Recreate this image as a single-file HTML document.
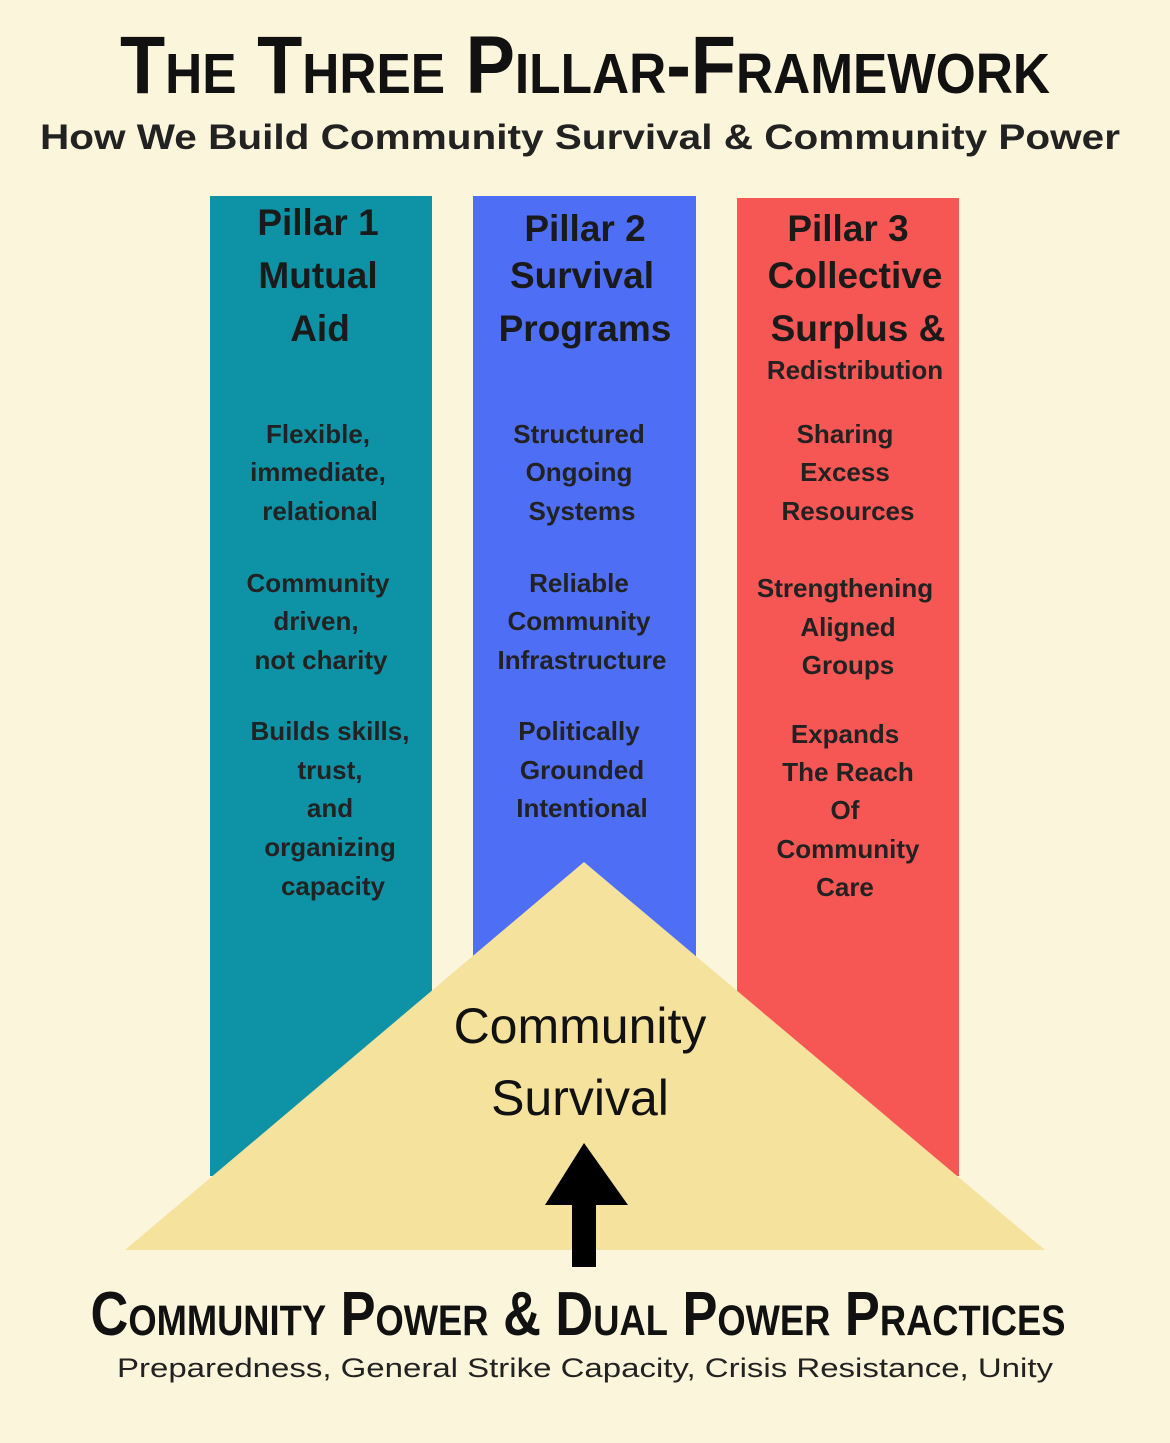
<!DOCTYPE html>
<html><head><meta charset="utf-8"><style>
html,body{margin:0;padding:0;background:#fbf5dc;}
svg{display:block}
text{font-family:"Liberation Sans",sans-serif;fill:#151515;}
.h{font-size:37px;font-weight:bold;fill:#1a1a1a}
.b{font-size:26px;font-weight:bold;fill:#222}
</style></head><body>
<svg width="1170" height="1443" viewBox="0 0 1170 1443" xmlns="http://www.w3.org/2000/svg">
<rect width="1170" height="1443" fill="#fbf5dc"/>
<text x="585" y="93" text-anchor="middle" font-weight="bold" font-size="82" textLength="930" lengthAdjust="spacingAndGlyphs" style="font-variant:small-caps;fill:#111">The Three Pillar-Framework</text>
<text x="580" y="149" text-anchor="middle" font-weight="bold" font-size="35" textLength="1080" lengthAdjust="spacingAndGlyphs" style="fill:#222">How We Build Community Survival &amp; Community Power</text>
<rect x="210" y="196" width="222" height="980" fill="#0e93a6"/>
<rect x="473" y="196" width="223" height="800" fill="#4f6ef6"/>
<rect x="737" y="198" width="222" height="978" fill="#f75754"/>
<polygon points="584,862 1045,1250 125,1250" fill="#f4e29d"/>
<g text-anchor="middle">
<text class="h" x="318" y="235">Pillar 1</text>
<text class="h" x="318" y="288">Mutual</text>
<text class="h" x="320" y="341">Aid</text>
<text class="h" x="585" y="241">Pillar 2</text>
<text class="h" x="582" y="288">Survival</text>
<text class="h" x="585" y="341">Programs</text>
<text class="h" x="848" y="241">Pillar 3</text>
<text class="h" x="855" y="288">Collective</text>
<text class="h" x="858" y="341">Surplus &amp;</text>
<text class="b" x="855" y="379">Redistribution</text>
<text class="b" x="318" y="443">Flexible,</text>
<text class="b" x="318" y="481">immediate,</text>
<text class="b" x="320" y="520">relational</text>
<text class="b" x="318" y="592">Community</text>
<text class="b" x="316" y="630">driven,</text>
<text class="b" x="321" y="669">not charity</text>
<text class="b" x="330" y="740">Builds skills,</text>
<text class="b" x="330" y="779">trust,</text>
<text class="b" x="330" y="817">and</text>
<text class="b" x="330" y="856">organizing</text>
<text class="b" x="333" y="895">capacity</text>
<text class="b" x="579" y="443">Structured</text>
<text class="b" x="579" y="481">Ongoing</text>
<text class="b" x="582" y="520">Systems</text>
<text class="b" x="579" y="592">Reliable</text>
<text class="b" x="579" y="630">Community</text>
<text class="b" x="582" y="669">Infrastructure</text>
<text class="b" x="579" y="740">Politically</text>
<text class="b" x="582" y="779">Grounded</text>
<text class="b" x="582" y="817">Intentional</text>
<text class="b" x="845" y="443">Sharing</text>
<text class="b" x="845" y="481">Excess</text>
<text class="b" x="848" y="520">Resources</text>
<text class="b" x="845" y="597">Strengthening</text>
<text class="b" x="848" y="636">Aligned</text>
<text class="b" x="848" y="674">Groups</text>
<text class="b" x="845" y="743">Expands</text>
<text class="b" x="848" y="781">The Reach</text>
<text class="b" x="845" y="819">Of</text>
<text class="b" x="848" y="858">Community</text>
<text class="b" x="845" y="896">Care</text>
<text x="580" y="1043" font-size="50" style="fill:#111">Community</text>
<text x="580" y="1115" font-size="50" style="fill:#111">Survival</text>
</g>
<polygon points="584,1143 628,1205 545,1205" fill="#000"/>
<rect x="572" y="1200" width="24" height="67" fill="#000"/>
<text x="578" y="1335" text-anchor="middle" font-weight="bold" font-size="62" textLength="975" lengthAdjust="spacingAndGlyphs" style="font-variant:small-caps;fill:#111">Community Power &amp; Dual Power Practices</text>
<text x="585" y="1377" text-anchor="middle" font-size="27" textLength="936" lengthAdjust="spacingAndGlyphs" style="fill:#222">Preparedness, General Strike Capacity, Crisis Resistance, Unity</text>
</svg>
</body></html>
